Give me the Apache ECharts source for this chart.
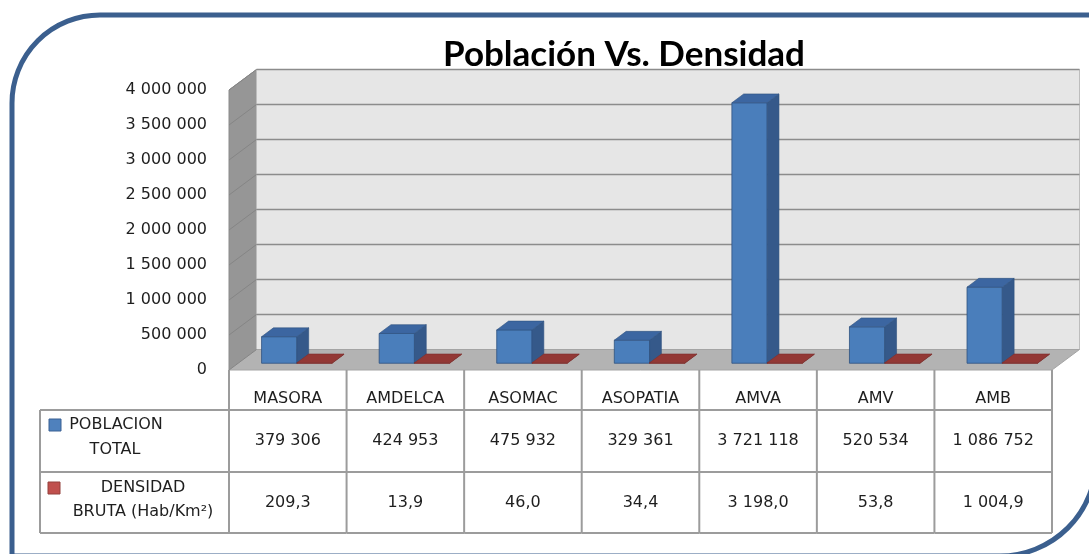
<!DOCTYPE html>
<html>
<head>
<meta charset="utf-8">
<script src="https://cdn.jsdelivr.net/npm/echarts@6/dist/echarts.min.js"></script>
<style>
  html, body { margin: 0; padding: 0; background: #fff; }
  #main { width: 1089px; height: 554px; }
</style>
</head>
<body>
<div id="main"></div>
<script>
var categories = ['MASORA', 'AMDELCA', 'ASOMAC', 'ASOPATIA', 'AMVA', 'AMV', 'AMB'];
var poblacion = [379306, 424953, 475932, 329361, 3721118, 520534, 1086752];
var densidad = [209.3, 13.9, 46.0, 34.4, 3198.0, 53.8, 1004.9];
var yTicks = ['0', '500 000', '1 000 000', '1 500 000', '2 000 000', '2 500 000', '3 000 000', '3 500 000', '4 000 000'];
var seriesLabels = [['POBLACION', 'TOTAL'], ['DENSIDAD', 'BRUTA (Hab/Km²)']];

// 3d depth vector (front plane -> back wall)
var DX = 27.5, DY = -20.5;
var FONT = 'DejaVu Sans';
var TXT = '#1e1e1e';
var LINE = '#9c9c9c';

function fmt(v, dec) {
    var s = v.toFixed(dec).split('.');
    var int = s[0].replace(/\B(?=(\d{3})+(?!\d))/g, ' ');
    return dec ? int + ',' + s[1] : int;
}

function wallsItem(params, api) {
    var cs = params.coordSys;
    var L = cs.x, R = cs.x + cs.width, B = cs.y + cs.height, T = cs.y;
    var els = [];
    // side wall
    els.push({type: 'polygon', shape: {points: [[L, B], [L, T], [L + DX, T + DY], [L + DX, B + DY]]},
        style: {fill: '#969696', stroke: '#8a8a8a', lineWidth: 1}});
    // back wall
    els.push({type: 'rect', shape: {x: L + DX, y: T + DY, width: R - L, height: B - T},
        style: {fill: '#e6e6e6', stroke: '#bdbdbd', lineWidth: 1}});
    // floor
    els.push({type: 'polygon', shape: {points: [[L, B], [R, B], [R + DX, B + DY], [L + DX, B + DY]]},
        style: {fill: '#b3b3b3', stroke: '#a4a4a4', lineWidth: 1}});
    for (var k = 0; k < yTicks.length; k++) {
        var y = api.coord([0, k * 500000])[1];
        if (k > 0) {
            els.push({type: 'line', shape: {x1: L + DX, y1: y + DY, x2: R + DX, y2: y + DY},
                style: {stroke: '#8c8c8c', lineWidth: 1.5}});
        }
        els.push({type: 'line', shape: {x1: L, y1: y, x2: L + DX, y2: y + DY},
            style: {stroke: '#858585', lineWidth: 1}});
    }
    return {type: 'group', children: els};
}

function barItem(s, colors) {
    return function (params, api) {
        var i = api.value(0), v = api.value(1);
        var base = api.coord([i, 0]), top = api.coord([i, v]);
        var bw = api.size([1, 0])[0];
        var w = bw * 0.3;
        var x0 = base[0] - w + s * w;
        var f0 = DX * 0.33, f1 = DY * 0.33, b0 = DX * 0.76, b1 = DY * 0.76;
        var h = Math.max(base[1] - top[1], 0.4);
        var yb = base[1], yt = base[1] - h;
        return {type: 'group', children: [
            {type: 'rect', shape: {x: x0 + f0, y: yt + f1, width: w, height: h},
                style: {fill: colors[0], stroke: colors[3], lineWidth: 0.8}},
            {type: 'polygon', shape: {points: [[x0 + w + f0, yb + f1], [x0 + w + f0, yt + f1], [x0 + w + b0, yt + b1], [x0 + w + b0, yb + b1]]},
                style: {fill: colors[1], stroke: colors[3], lineWidth: 0.6}},
            {type: 'polygon', shape: {points: [[x0 + f0, yt + f1], [x0 + w + f0, yt + f1], [x0 + w + b0, yt + b1], [x0 + b0, yt + b1]]},
                style: {fill: colors[2], stroke: colors[3], lineWidth: 0.6}}
        ]};
    };
}

function tableItem(params, api) {
    var i = api.value(0);
    var c = api.coord([i, 0]);
    var bw = api.size([1, 0])[0];
    var xl = c[0] - bw / 2, xr = c[0] + bw / 2;
    var y0 = c[1], y1 = y0 + 40, y2 = y0 + 102, y3 = y0 + 163;
    var ln = {stroke: LINE, lineWidth: 2};
    var tf = '16px "' + FONT + '"';
    var els = [
        {type: 'line', shape: {x1: xl, y1: y0, x2: xl, y2: y3}, style: ln},
        {type: 'line', shape: {x1: xl, y1: y1, x2: xr, y2: y1}, style: ln},
        {type: 'line', shape: {x1: xl, y1: y2, x2: xr, y2: y2}, style: ln},
        {type: 'line', shape: {x1: xl, y1: y3, x2: xr, y2: y3}, style: ln},
        {type: 'text', style: {x: c[0], y: (y1 + y2) / 2, text: fmt(poblacion[i], 0), align: 'center', verticalAlign: 'middle',
            font: tf, fill: TXT}},
        {type: 'text', style: {x: c[0], y: (y2 + y3) / 2, text: fmt(densidad[i], 1), align: 'center', verticalAlign: 'middle',
            font: tf, fill: TXT}}
    ];
    if (i === categories.length - 1) {
        els.push({type: 'line', shape: {x1: xr, y1: y0, x2: xr, y2: y3}, style: ln});
    }
    if (i === 0) {
        var lx = 40;
        els.push({type: 'line', shape: {x1: lx, y1: y1, x2: xl, y2: y1}, style: ln});
        els.push({type: 'line', shape: {x1: lx, y1: y2, x2: xl, y2: y2}, style: ln});
        els.push({type: 'line', shape: {x1: lx, y1: y3, x2: xl, y2: y3}, style: ln});
        els.push({type: 'line', shape: {x1: lx, y1: y1, x2: lx, y2: y3}, style: ln});
        els.push({type: 'rect', shape: {x: lx + 9, y: y1 + 9, width: 12, height: 12},
            style: {fill: '#4f81bd', stroke: '#3a6193', lineWidth: 1}});
        els.push({type: 'rect', shape: {x: lx + 8, y: y2 + 10, width: 12, height: 12},
            style: {fill: '#c0504d', stroke: '#94403d', lineWidth: 1}});
        els.push({type: 'text', style: {x: lx + 76, y: y1 + 15, text: seriesLabels[0][0], align: 'center', verticalAlign: 'middle', font: tf, fill: TXT}});
        els.push({type: 'text', style: {x: lx + 75, y: y1 + 40, text: seriesLabels[0][1], align: 'center', verticalAlign: 'middle', font: tf, fill: TXT}});
        els.push({type: 'text', style: {x: lx + 103, y: y2 + 16, text: seriesLabels[1][0], align: 'center', verticalAlign: 'middle', font: tf, fill: TXT}});
        els.push({type: 'text', style: {x: lx + 103, y: y2 + 40, text: seriesLabels[1][1], align: 'center', verticalAlign: 'middle', font: tf, fill: TXT}});
    }
    return {type: 'group', children: els};
}

var chart = echarts.init(document.getElementById('main'), null, {renderer: 'canvas'});
var option = {
    animation: false,
    backgroundColor: '#fff',
    title: {
        text: 'Población Vs. Densidad',
        left: 619,
        top: 32,
        textAlign: 'center',
        textStyle: {fontFamily: 'Lato', fontWeight: 'bold', fontSize: 35, color: '#000'}
    },
    graphic: [{
        type: 'rect', z: 100,
        shape: {x: 12, y: 15, width: 1084, height: 541, r: [88, 0, 96, 0]},
        style: {fill: 'none', stroke: '#3b5f8e', lineWidth: 5}
    }],
    grid: {left: 229, right: 37, top: 90, bottom: 184},
    xAxis: {
        type: 'category',
        data: categories,
        axisLine: {show: false},
        axisTick: {show: false},
        axisLabel: {margin: 21, fontFamily: FONT, fontSize: 16, color: TXT, interval: 0}
    },
    yAxis: {
        type: 'value',
        min: 0, max: 4000000, interval: 500000,
        axisLine: {show: false},
        axisTick: {show: false},
        splitLine: {show: false},
        axisLabel: {
            margin: 22, fontFamily: FONT, fontSize: 16, color: TXT,
            formatter: function (v) { return yTicks[Math.round(v / 500000)]; }
        }
    },
    series: [
        {type: 'custom', name: 'walls', renderItem: wallsItem, data: [[0, 0]], clip: false, z: 1, silent: true},
        {type: 'custom', name: 'POBLACION TOTAL', clip: false, z: 2,
            renderItem: barItem(0, ['#4a7ebb', '#35598a', '#3c66a1', '#2f527f']),
            data: poblacion.map(function (v, i) { return [i, v]; })},
        {type: 'custom', name: 'DENSIDAD BRUTA (Hab/Km²)', clip: false, z: 3,
            renderItem: barItem(1, ['#b0413e', '#8a3533', '#933835', '#7d2f2d']),
            data: densidad.map(function (v, i) { return [i, v]; })},
        {type: 'custom', name: 'table', renderItem: tableItem, clip: false, z: 4, silent: true,
            data: categories.map(function (c, i) { return [i, 0]; })}
    ]
};
chart.setOption(option);
</script>
</body>
</html>
